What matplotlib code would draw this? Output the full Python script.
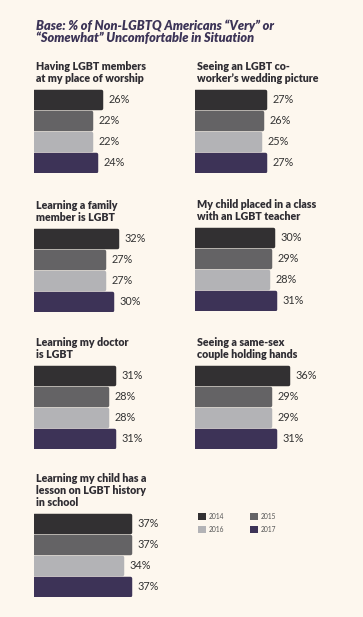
import matplotlib
matplotlib.use("Agg")
import matplotlib.pyplot as plt
from matplotlib.patches import Patch

years = ["2014", "2015", "2016", "2017"]
colors = ["#323032", "#646365", "#b3b3b6", "#3d3357"]

titles = [
    "Having LGBT members\nat my place of worship",
    "Seeing an LGBT co-\nworker\u2019s wedding picture",
    "Learning a family\nmember is LGBT",
    "My child placed in a class\nwith an LGBT teacher",
    "Learning my doctor\nis LGBT",
    "Seeing a same-sex\ncouple holding hands",
    "Learning my child has a\nlesson on LGBT history\nin school",
]
values = [
    [26, 22, 22, 24],
    [27, 26, 25, 27],
    [32, 27, 27, 30],
    [30, 29, 28, 31],
    [31, 28, 28, 31],
    [36, 29, 29, 31],
    [37, 37, 34, 37],
]

W, H = 363, 617
DPI = 100
bg = "#fdf7ee"
fig = plt.figure(figsize=(W / DPI, H / DPI), dpi=DPI, facecolor=bg)

plt.rcParams["font.family"] = ["Lato", "DejaVu Sans"]

fig.text(36 / W, 1 - 19 / H, "Base: % of Non-LGBTQ Americans \u201cVery\u201d or\n\u201cSomewhat\u201d Uncomfortable in Situation",
         fontsize=9.2, fontweight="heavy", fontstyle="italic", color="#3c3457",
         va="top", ha="left", linespacing=1.0)

# panel positions (left px, bars top px)
lefts = [36, 197, 36, 197, 36, 197, 36]
tops = [89, 89, 228, 227, 365, 365, 513]
px_per_unit = 2.58
lw = 2.5
out = lw * DPI / 72 / 2
xmax = 60

for k in range(7):
    l = lefts[k] - out
    top = tops[k]
    hpx = 84
    ax = fig.add_axes([l / W, 1 - (top + hpx) / H, xmax * px_per_unit / W, hpx / H])
    ax.set_facecolor("none")
    ax.set_xlim(0, xmax)
    ax.set_ylim(3.5, -0.5)
    ax.axis("off")
    bh = (20 - 2 * out) / 21
    ax.barh(range(4), values[k], height=bh, color=colors, edgecolor=colors,
            linewidth=lw, joinstyle="round")
    for i, v in enumerate(values[k]):
        ax.annotate(f"{v}%", (v, i), xytext=(5.5, 0), textcoords="offset points",
                    va="center", ha="left", fontsize=7.8, fontweight="normal", color="#333333")
    ax.text(out / px_per_unit, -0.5 - 5 / 21, titles[k], transform=ax.transData,
            fontsize=7.7, fontweight="heavy", color="#2f2d33",
            va="bottom", ha="left", linespacing=1.12)

handles = [Patch(facecolor=c, edgecolor="none", label=y) for c, y in zip(colors, years)]
order = [0, 2, 1, 3]
leg = fig.legend([handles[i] for i in order], [years[i] for i in order],
                 ncol=2, loc="upper left", bbox_to_anchor=(193 / W, 1 - 508 / H),
                 frameon=False, fontsize=4.8, handlelength=1.2, handleheight=1.2,
                 handletextpad=0.45, columnspacing=3.9, labelspacing=0.9, borderpad=0.2)
for t in leg.get_texts():
    t.set_color("#555555")

fig.savefig("out.png", dpi=DPI, facecolor=bg)
